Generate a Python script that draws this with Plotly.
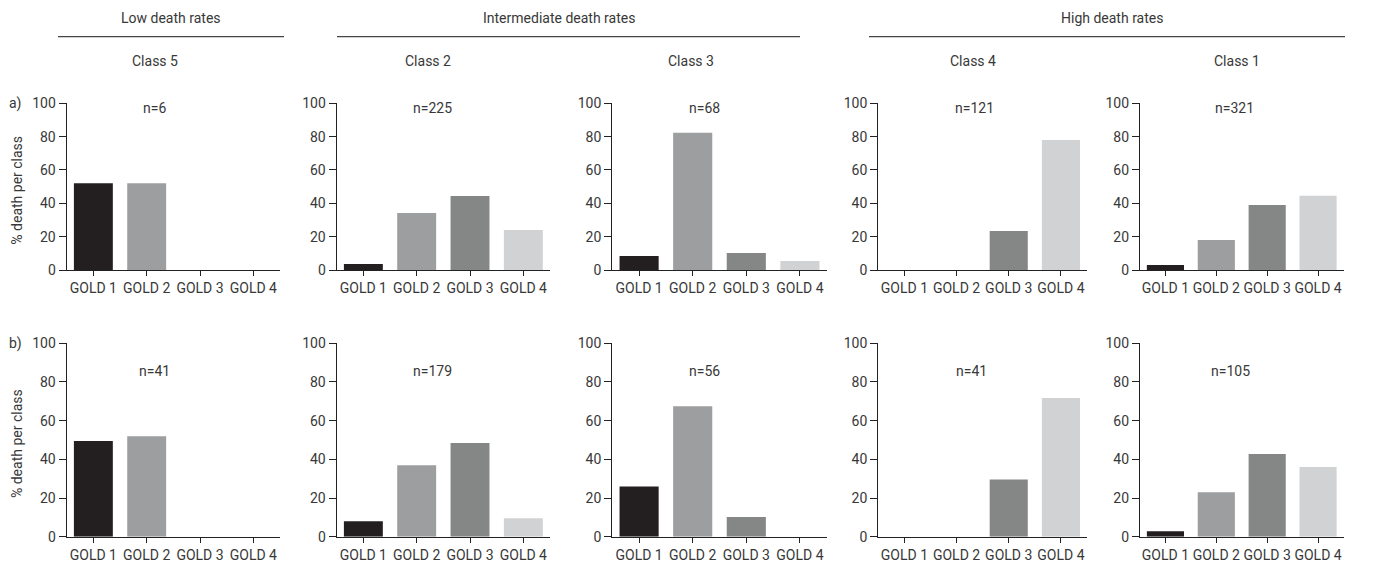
import plotly.graph_objects as go

W, H = 1376, 562

categories = ["GOLD 1", "GOLD 2", "GOLD 3", "GOLD 4"]
class_names = ["Class 5", "Class 2", "Class 3", "Class 4", "Class 1"]
group_names = ["Low death rates", "Intermediate death rates", "High death rates"]
row_labels = ["a)", "b)"]

n_row_a = [6, 225, 68, 121, 321]
n_row_b = [41, 179, 56, 41, 105]

# % death per class, row a
a_class5 = [52, 52, 0, 0]
a_class2 = [3.6, 34.2, 44.4, 24.0]
a_class3 = [8.4, 82.4, 10.2, 5.4]
a_class4 = [0, 0, 23.4, 78.0]
a_class1 = [3.0, 18.0, 39.0, 44.6]

# % death per class, row b
b_class5 = [49.5, 52.0, 0, 0]
b_class2 = [8.0, 37.0, 48.5, 9.5]
b_class3 = [26.0, 67.5, 10.2, 0]
b_class4 = [0, 0, 29.6, 71.7]
b_class1 = [2.8, 23.0, 42.8, 36.0]

rows = [
    [a_class5, a_class2, a_class3, a_class4, a_class1],
    [b_class5, b_class2, b_class3, b_class4, b_class1],
]
n_rows = [n_row_a, n_row_b]

bar_colors = ["#231f20", "#9d9e9f", "#858686", "#d1d2d3"]

FONT = "Roboto"
FS = 14
TXT = "#383838"
AX = "#222222"

def px(x):
    return x / W

def py(y):
    return 1 - y / H

# panel horizontal extents (pixels)
panel_x = [(66.7, 280), (336.7, 550), (612.3, 826.7), (878.3, 1087), (1140, 1343.5)]
# row vertical extents (pixels): (y at 100, y at 0)
row_y = [(103.3, 270.0), (343.3, 536.7)]
n_label_x = [[154, 432, 704, 974, 1234], [154, 432, 704, 971, 1230]]
n_label_y = [108, 371]

fig = go.Figure()
layout = dict(
    template="none",
    width=W, height=H, margin=dict(l=0, r=0, t=0, b=0, pad=0, autoexpand=False),
    paper_bgcolor="white", plot_bgcolor="white",
    showlegend=False, bargap=0.27,
    font=dict(family=FONT, size=FS, color=TXT),
)
annotations = []
shapes = []

idx = 0
for r in range(2):
    for c in range(5):
        idx += 1
        xa = "x" if idx == 1 else f"x{idx}"
        ya = "y" if idx == 1 else f"y{idx}"
        fig.add_trace(go.Bar(
            x=categories, y=rows[r][c], xaxis=xa, yaxis=ya,
            marker=dict(color=bar_colors, line=dict(width=0)),
            hoverinfo="x+y",
        ))
        x0, x1 = panel_x[c]
        ytop, ybot = row_y[r]
        layout["xaxis" if idx == 1 else f"xaxis{idx}"] = dict(
            domain=[px(x0), px(x1)], anchor=ya, automargin=False,
            type="category", range=[-0.5, 3.5],
            showline=True, linecolor=AX, linewidth=1.3,
            ticks="outside", ticklen=5, tickwidth=1.3, tickcolor=AX,
            showgrid=False, zeroline=False, fixedrange=True,
            tickfont=dict(family=FONT, size=FS, color=TXT),
        )
        layout["yaxis" if idx == 1 else f"yaxis{idx}"] = dict(
            domain=[py(ybot), py(ytop)], anchor=xa, automargin=False,
            range=[0, 100], tickvals=[0, 20, 40, 60, 80, 100],
            showline=True, linecolor=AX, linewidth=1.3,
            ticks="outside", ticklen=7, tickwidth=1.3, tickcolor=AX,
            showgrid=False, zeroline=False, fixedrange=True,
            tickfont=dict(family=FONT, size=FS, color=TXT),
        )
        annotations.append(dict(
            text=f"n={n_rows[r][c]}", x=px(n_label_x[r][c]), y=py(n_label_y[r]),
            xref="paper", yref="paper", showarrow=False,
            xanchor="center", yanchor="middle",
            font=dict(family=FONT, size=FS, color=TXT),
        ))

# row labels and y titles
for r, lab in enumerate(row_labels):
    ytop, ybot = row_y[r]
    annotations.append(dict(
        text=lab, x=px(15), y=py(ytop + 0.5), xref="paper", yref="paper",
        showarrow=False, xanchor="center", yanchor="middle",
        font=dict(family=FONT, size=FS, color=TXT),
    ))
    annotations.append(dict(
        text="% death per class", x=px(17), y=py((ytop + ybot) / 2 + 4),
        xref="paper", yref="paper", showarrow=False, textangle=-90,
        xanchor="center", yanchor="middle",
        font=dict(family=FONT, size=FS, color=TXT),
    ))

# class titles
class_x = [155, 428, 691, 973, 1237]
for name, cx in zip(class_names, class_x):
    annotations.append(dict(
        text=name, x=px(cx), y=py(61), xref="paper", yref="paper",
        showarrow=False, xanchor="center", yanchor="middle",
        font=dict(family=FONT, size=FS, color=TXT),
    ))

# group titles and lines
group_x = [171, 559, 1112]
group_lines = [(58, 284), (337, 800), (869, 1345)]
for name, gx, (l0, l1) in zip(group_names, group_x, group_lines):
    annotations.append(dict(
        text=name, x=px(gx), y=py(18), xref="paper", yref="paper",
        showarrow=False, xanchor="center", yanchor="middle",
        font=dict(family=FONT, size=FS, color=TXT),
    ))
    shapes.append(dict(
        type="line", xref="paper", yref="paper",
        x0=px(l0), x1=px(l1), y0=py(36.7), y1=py(36.7),
        line=dict(color="#444444", width=1.3),
    ))

layout["annotations"] = annotations
layout["shapes"] = shapes
fig.update_layout(**layout)
fig.write_html(
    "out.html",
    config={"displayModeBar": False},
    post_script="document.body.style.margin='0';document.body.style.overflow='hidden';",
)
